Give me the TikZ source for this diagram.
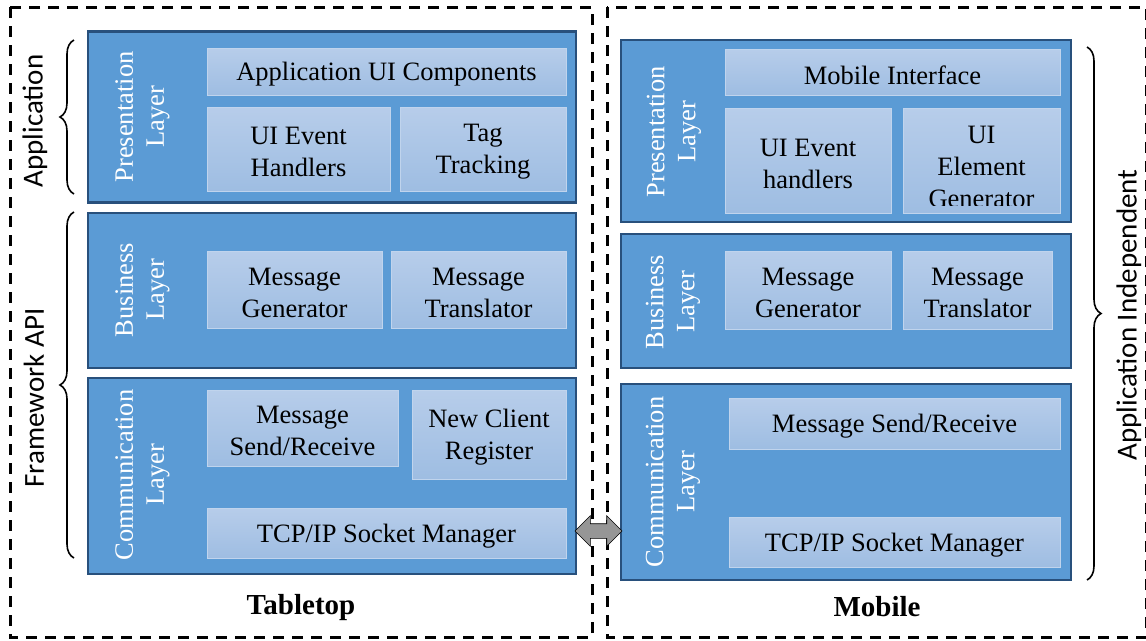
\documentclass[tikz,border=0pt]{standalone}
\usepackage{fontspec}
\setmainfont{Liberation Serif}
\newfontfamily\bracefont{Carlito}
\usetikzlibrary{shapes.arrows, decorations.pathreplacing, calc}
\definecolor{layerblue}{RGB}{91,155,213}
\definecolor{layeredge}{RGB}{40,80,124}
\definecolor{subtop}{RGB}{183,205,234}
\definecolor{subbottom}{RGB}{158,189,226}
\definecolor{subedge}{RGB}{192,212,237}
\definecolor{linkgray}{RGB}{150,150,150}

\begin{document}
\begin{tikzpicture}[
    x=1pt, y=-1pt,
    layer/.style={draw=layeredge, line width=2.5pt, fill=layerblue},
    subbox/.style={draw=subedge, line width=0.6pt, top color=subtop, bottom color=subbottom, inner sep=0pt},
    subtext/.style={inner sep=0pt, align=center, font=\fontsize{26.5}{32}\selectfont},
    boxtext/.style={subtext, yshift=-3pt},
    layername/.style={rotate=90, text=white, align=center, inner sep=0pt, font=\fontsize{26.5}{31}\selectfont},
    title/.style={font=\fontsize{29}{34}\selectfont\bfseries},
    grouplabel/.style={rotate=90, inner sep=0pt, font=\bracefont\fontsize{29}{34}\selectfont},
    frame/.style={line width=3pt, dash pattern=on 11pt off 8pt},
    group/.style={decorate, decoration={brace, amplitude=14pt}, line width=1.6pt},
    link/.style={double arrow, draw=black, line width=0.6pt, fill=linkgray, minimum height=47pt, minimum width=30pt, inner xsep=0pt, inner ysep=7pt, double arrow head extend=8pt}
]
    \useasboundingbox (0,0) rectangle (1146,640);

    % Dashed frames
    \draw[frame] (10,7) rectangle (592,637);
    \draw[frame] (607,7) rectangle (1146,637);

    % Tabletop layers
    \node[layer, minimum width=488pt, minimum height=171pt] (tpres) at (332,117) {};
    \node[layer, minimum width=488pt, minimum height=155pt] (tbus) at (332,290.5) {};
    \node[layer, minimum width=488pt, minimum height=196pt] (tcomm) at (332,476) {};

    \node[layername] (tpresname) at (142.5,117) {Presentation\\Layer};
    \node[layername] (tbusname) at (142.5,290) {Business\\Layer};
    \node[layername] (tcommname) at (142.5,475) {Communication\\Layer};

    % Tabletop components
    \node[subbox, minimum width=359pt, minimum height=47pt, label={[boxtext]center:Application UI Components}] (tappui) at (386.5,71.5) {};
    \node[subbox, minimum width=183pt, minimum height=84pt, label={[boxtext]center:UI Event\\Handlers}] (tevent) at (298.5,149) {};
    \node[subbox, minimum width=166pt, minimum height=84pt, label={[boxtext]center:Tag\\Tracking}] (ttag) at (483,149) {};
    \node[subbox, minimum width=175pt, minimum height=77pt, label={[boxtext]center:Message\\Generator}] (tgen) at (294.5,289.5) {};
    \node[subbox, minimum width=175pt, minimum height=77pt, label={[boxtext]center:Message\\Translator}] (ttrans) at (478.5,289.5) {};
    \node[subbox, minimum width=191pt, minimum height=76pt, label={[boxtext]center:Message\\Send/Receive}] (tsend) at (302.5,428) {};
    \node[subbox, minimum width=154pt, minimum height=89pt, label={[boxtext]center:New Client\\Register}] (tnew) at (489,434.5) {};
    \node[subbox, minimum width=359pt, minimum height=50pt, label={[boxtext]center:TCP/IP Socket Manager}] (tsock) at (386.5,533) {};

    \node[title] (ttitle) at (301,608) {Tabletop};

    % Mobile layers
    \node[layer, minimum width=450pt, minimum height=182pt] (mpres) at (846,131) {};
    \node[layer, minimum width=450pt, minimum height=134pt] (mbus) at (846,301) {};
    \node[layer, minimum width=450pt, minimum height=196pt] (mcomm) at (846,482) {};

    \node[layername] (mpresname) at (674,132) {Presentation\\Layer};
    \node[layername] (mbusname) at (673,302) {Business\\Layer};
    \node[layername] (mcommname) at (673,482) {Communication\\Layer};

    % Mobile components
    \node[subbox, minimum width=335pt, minimum height=46pt, label={[boxtext]center:Mobile Interface}] (minter) at (892.5,72) {};
    \node[subbox, minimum width=166pt, minimum height=105pt, label={[boxtext]center:UI Event\\handlers}] (mevent) at (808,160.5) {};
    \node[subbox, minimum width=157pt, minimum height=105pt] (melem) at (981.5,160.5) {};
    \begin{scope}
        \clip (melem.north west) rectangle ($(melem.south east)+(0,-8)$);
        \node[subtext] (meltext) at (981.5,167) {UI\\Element\\Generator};
    \end{scope}
    \node[subbox, minimum width=166pt, minimum height=78pt, label={[boxtext]center:Message\\Generator}] (mgen) at (808,290) {};
    \node[subbox, minimum width=149pt, minimum height=78pt, label={[boxtext]center:Message\\Translator}] (mtrans) at (977.5,290) {};
    \node[subbox, minimum width=331pt, minimum height=51pt, label={[boxtext]center:Message Send/Receive}] (msend) at (894.5,423.5) {};
    \node[subbox, minimum width=331pt, minimum height=50pt, label={[boxtext]center:TCP/IP Socket Manager}] (msock) at (894.5,542) {};

    \node[title] (mtitle) at (877,607) {Mobile};

    % Socket link between the two sides
    \node[link] (sockLink) at (598.5,531) {};

    % Braces and their labels
    \draw[group] (74,194) -- (74,40);
    \draw[group] (74,558) -- (74,212);
    \draw[group] (1087,47) -- (1087,580);

    \node[grouplabel] (appLabel) at (35,121) {Application};
    \node[grouplabel] (apiLabel) at (34,398) {Framework API};
    \node[grouplabel] (indepLabel) at (1129,315) {Application Independent};
\end{tikzpicture}
\end{document}
